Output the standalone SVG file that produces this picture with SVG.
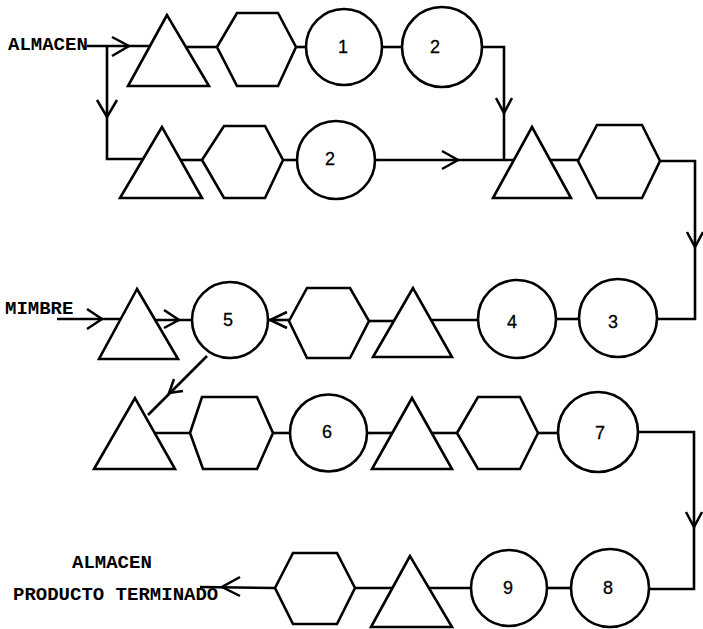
<svg xmlns="http://www.w3.org/2000/svg" width="703" height="629" viewBox="0 0 703 629">
<style>
.s{fill:#fff;stroke:#000;stroke-width:2.6;stroke-linejoin:miter}
.c{fill:none;stroke:#000;stroke-width:2.6;stroke-linejoin:miter}
.a{fill:none;stroke:#000;stroke-width:2.5}
.n{font-family:"Liberation Sans","DejaVu Sans",sans-serif;font-size:18px;text-anchor:middle;dominant-baseline:central;stroke:#000;stroke-width:0.3}
.t{font-family:"Liberation Mono","DejaVu Sans Mono",monospace;font-size:19px;font-weight:bold}
</style>
<rect width="703" height="629" fill="#fff"/>
<g id="connectors">
<path class="c" d="M87,46 H150"/>
<polyline class="a" points="112,37 129,46 112,56"/>
<path class="c" d="M107,46 V159 H143"/>
<polyline class="a" points="97,100 107,117 117,100"/>
<path class="c" d="M185,47 H217"/>
<path class="c" d="M296,47 H306"/>
<path class="c" d="M383,47 H402"/>
<path class="c" d="M482,47 H504 V160"/>
<polyline class="a" points="496,98 504,113 512,98"/>
<path class="c" d="M181,160 H202"/>
<path class="c" d="M283,160 H297"/>
<path class="c" d="M375,160 H514"/>
<polyline class="a" points="442,151 458,160 442,169"/>
<path class="c" d="M550,160 H578"/>
<path class="c" d="M660,161 H695 V319 H657"/>
<polyline class="a" points="687,232 695,247 703,232"/>
<path class="c" d="M556,319 H579"/>
<path class="c" d="M431,320 H478"/>
<path class="c" d="M369,321 H395"/>
<path class="c" d="M268,320 H289"/>
<polyline class="a" points="287,312 270,320 287,328"/>
<path class="c" d="M57,319 H121"/>
<polyline class="a" points="87,309 102,319 87,329"/>
<path class="c" d="M154,320 H192"/>
<polyline class="a" points="164,310 179,320 164,328"/>
<path class="c" d="M207,356 L148,415"/>
<polyline class="a" points="174,379 169,393 183,391"/>
<path class="c" d="M155,433 H190"/>
<path class="c" d="M273,433 H290"/>
<path class="c" d="M367,433 H392"/>
<path class="c" d="M432,433 H457"/>
<path class="c" d="M538,433 H559"/>
<path class="c" d="M638,432 H694 V589 H650"/>
<polyline class="a" points="686,512 694,527 702,512"/>
<path class="c" d="M547,588 H571"/>
<path class="c" d="M429,588 H471"/>
<path class="c" d="M355,588 H392"/>
<path class="c" d="M275,588 L200,587"/>
<polyline class="a" points="240,577 222,587 240,596"/>
</g>
<g id="tri1"><polygon class="s" points="167,15 128,86 209,86"/></g>
<g id="hex1"><polygon class="s" points="217,47 237,13 278,13 296,47 278,86 237,86"/></g>
<g id="op1"><circle class="s" cx="344" cy="47" r="38"/><text class="n" x="343" y="47">1</text></g>
<g id="op2a"><circle class="s" cx="442" cy="47" r="40"/><text class="n" x="435" y="47">2</text></g>
<g id="tri2"><polygon class="s" points="162,127 120,198 202,198"/></g>
<g id="hex2"><polygon class="s" points="202,160 224,126 265,126 283,160 265,198 224,198"/></g>
<g id="op2b"><circle class="s" cx="336" cy="160" r="39"/><text class="n" x="330" y="159">2</text></g>
<g id="tri3"><polygon class="s" points="532,127 493,198 571,198"/></g>
<g id="hex3"><polygon class="s" points="578,161 597,125 642,125 660,161 642,198 597,198"/></g>
<g id="op3"><circle class="s" cx="618" cy="318" r="39"/><text class="n" x="613" y="322">3</text></g>
<g id="op4"><circle class="s" cx="517" cy="319" r="39"/><text class="n" x="512" y="322">4</text></g>
<g id="tri4"><polygon class="s" points="413,288 373,357 452,357"/></g>
<g id="hex4"><polygon class="s" points="289,321 307,288 350,288 369,321 350,358 307,358"/></g>
<g id="op5"><circle class="s" cx="230" cy="320" r="38"/><text class="n" x="228" y="320">5</text></g>
<g id="tri5"><polygon class="s" points="137,289 99,359 178,359"/></g>
<g id="tri6"><polygon class="s" points="135,398 94,469 175,469"/></g>
<g id="hex5"><polygon class="s" points="190,433 202,397 257,397 273,433 257,469 203,469"/></g>
<g id="op6"><circle class="s" cx="328.5" cy="433" r="38.5"/><text class="n" x="327" y="432">6</text></g>
<g id="tri7"><polygon class="s" points="412,398 372,469 452,469"/></g>
<g id="hex6"><polygon class="s" points="457,433 478,397 520,397 538,433 520,469 478,469"/></g>
<g id="op7"><circle class="s" cx="598" cy="432" r="40"/><text class="n" x="600" y="433">7</text></g>
<g id="op8"><circle class="s" cx="610" cy="588" r="39"/><text class="n" x="608" y="588">8</text></g>
<g id="op9"><circle class="s" cx="509" cy="588" r="38"/><text class="n" x="508" y="588">9</text></g>
<g id="tri8"><polygon class="s" points="410,556 371,627 452,627"/></g>
<g id="hex7"><polygon class="s" points="275,588 293,553 337,553 355,588 337,624 293,624"/></g>
<g id="labels">
<text class="t" x="8" y="50">ALMACEN</text>
<text class="t" x="5" y="314">MIMBRE</text>
<text class="t" x="72" y="568">ALMACEN</text>
<text class="t" x="13" y="600">PRODUCTO TERMINADO</text>
</g>
</svg>
